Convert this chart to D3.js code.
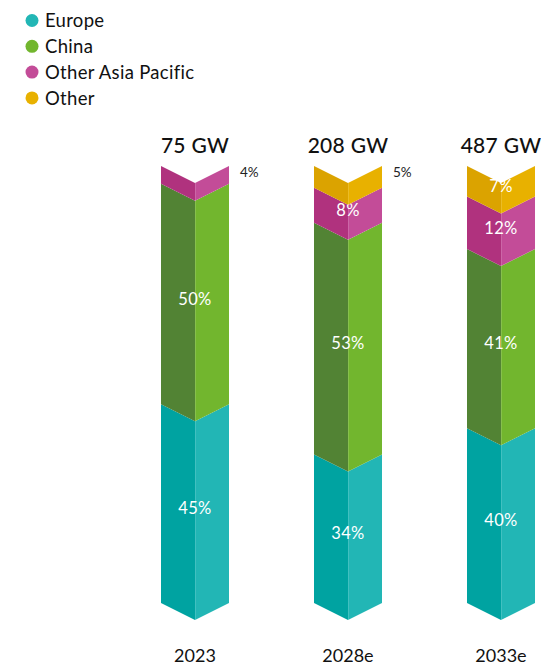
<!DOCTYPE html>
<html>
<head>
<meta charset="utf-8">
<script src="https://cdn.jsdelivr.net/npm/d3@7"></script>
<style>
  html, body { margin: 0; padding: 0; background: #fff; }
  svg { display: block; font-family: "Lato", "Noto Sans", sans-serif; }
</style>
</head>
<body>
<svg id="chart" width="541" height="668"></svg>
<script>
// Installed capacity by region, share of total per year
const years = ["2023", "2028e", "2033e"];
const totals = ["75 GW", "208 GW", "487 GW"];
const regions = ["Europe", "China", "Other Asia Pacific", "Other"];
const europe = [45, 34, 40];
const china = [50, 53, 41];
const otherAsiaPacific = [4, 8, 12];
const other = [0, 5, 7];

const series = [europe, china, otherAsiaPacific, other];
const faceLeft = ["#00a3a1", "#528334", "#b0327e", "#dba300"];
const faceRight = ["#22b6b5", "#72b62e", "#c34c98", "#e8b100"];

const svg = d3.select("#chart");

// Legend
const legend = svg.append("g").attr("transform", "translate(32,20.5)");
regions.forEach((r, i) => {
  const g = legend.append("g").attr("transform", `translate(0,${i * 25.8})`);
  g.append("circle").attr("r", 6.5).attr("fill", faceRight[i]);
  g.append("text").attr("x", 13).attr("dy", "0.36em")
    .attr("font-size", 18.5).attr("letter-spacing", 0.3)
    .attr("fill", "#111").text(r);
});

// Scales
const barWidth = 68;
const half = barWidth / 2;
const depth = half * 0.5;
const x = d3.scalePoint().domain(years).range([195, 501]);
const y = d3.scaleLinear().domain([0, 1]).range([603, 166]);

years.forEach((year, j) => {
  const cx = x(year);
  const xl = cx - half, xr = cx + half;
  const sum = d3.sum(series, s => s[j]);
  let acc = 0;
  const g = svg.append("g");
  series.forEach((s, i) => {
    const v = s[j];
    if (!v) return;
    const y0 = y(acc / sum);
    const y1 = y((acc + v) / sum);
    acc += v;
    // left face
    g.append("path")
      .attr("d", d3.line()([[xl, y0], [cx, y0 + depth], [cx, y1 + depth], [xl, y1]]) + "Z")
      .attr("fill", faceLeft[i]);
    // right face
    g.append("path")
      .attr("d", d3.line()([[cx, y0 + depth], [xr, y0], [xr, y1], [cx, y1 + depth]]) + "Z")
      .attr("fill", faceRight[i]);
    const label = v + "%";
    if (v < 6) {
      g.append("text").attr("x", xr + 11).attr("y", y1 + 6).attr("dy", "0.35em")
        .attr("font-size", 13.5).attr("fill", "#222").text(label);
    } else {
      g.append("text").attr("x", cx).attr("y", (y0 + y1) / 2 + 5).attr("dy", "0.35em")
        .attr("text-anchor", "middle").attr("font-size", 16.5).attr("font-weight", 400)
        .attr("letter-spacing", 0.3).attr("fill", "#fff").text(label);
    }
  });
  // subtle edge between faces
  g.append("line").attr("x1", cx + 0.5).attr("x2", cx + 0.5)
    .attr("y1", y(1) + depth).attr("y2", y(0) + depth)
    .attr("stroke", "#fff").attr("stroke-opacity", 0.15);

  // total on top
  svg.append("text").attr("x", cx).attr("y", 146).attr("dy", "0.35em")
    .attr("text-anchor", "middle").attr("font-size", 21).attr("font-weight", 500)
    .attr("letter-spacing", 0.3).attr("fill", "#111").text(totals[j]);
  // year below
  svg.append("text").attr("x", cx).attr("y", 656).attr("dy", "0.35em")
    .attr("text-anchor", "middle").attr("font-size", 18)
    .attr("fill", "#111").text(year);
});
</script>
</body>
</html>
